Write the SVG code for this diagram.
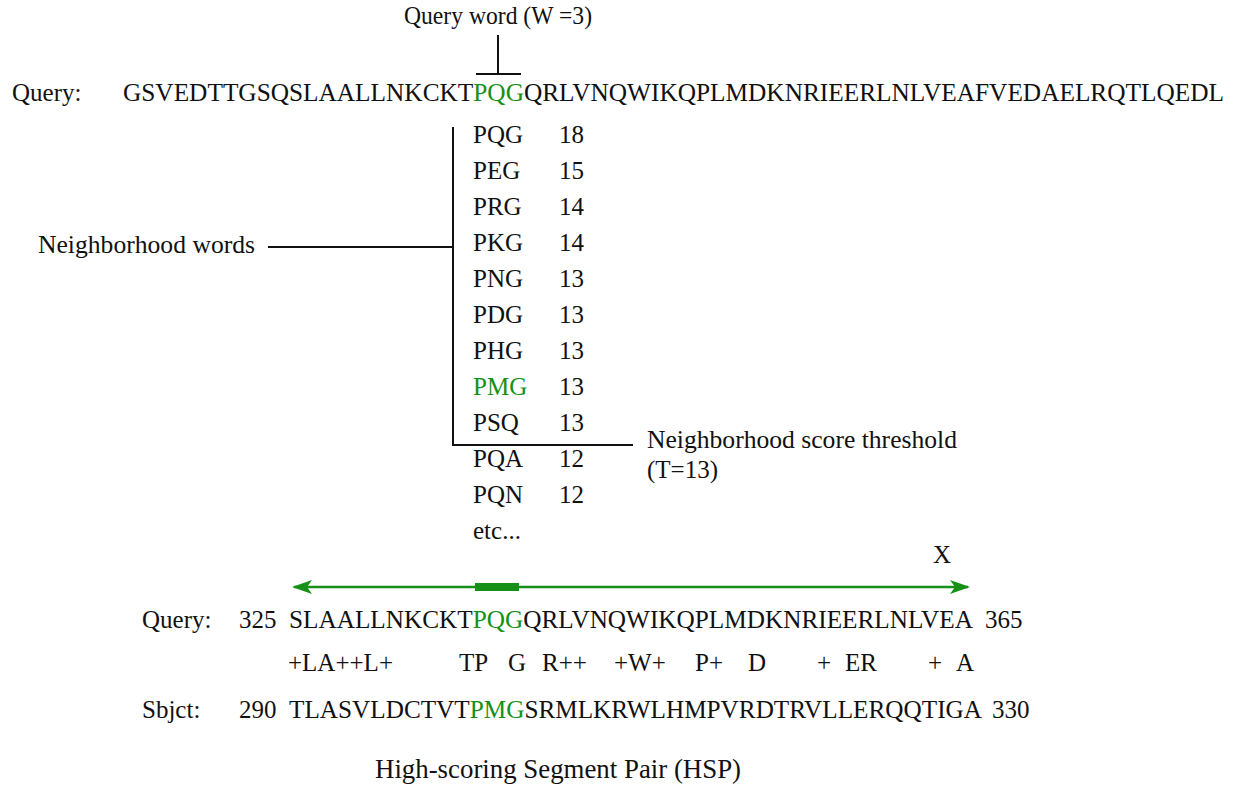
<svg xmlns="http://www.w3.org/2000/svg" width="1237" height="790" viewBox="0 0 1237 790">
<style>
text{font-family:"Liberation Serif","DejaVu Serif","Times New Roman",serif;font-size:25px;fill:#111}
.g{fill:#179017}
.ln{stroke:#111;stroke-width:2;fill:none}
.ga{stroke:#179017;stroke-width:2.5;fill:none}
</style>
<defs>
<marker id="ah" viewBox="0 0 20 14" refX="18" refY="7" markerWidth="20" markerHeight="14" markerUnits="userSpaceOnUse" orient="auto-start-reverse">
<path d="M0,0 L20,7 L0,14 L5,7 Z" fill="#179017"/>
</marker>
</defs>
<rect width="1237" height="790" fill="#fff"/>
<g id="connectors">
<path class="ln" d="M498,35 V74 M476,74 H521"/>
<path class="ln" d="M453,127 V445 H633"/>
<path class="ln" d="M268,247 H453"/>
<line class="ga" x1="294" y1="587" x2="968" y2="587" marker-start="url(#ah)" marker-end="url(#ah)"/>
<rect x="475" y="583" width="44" height="8" fill="#179017"/>
</g>
<g id="query-word"><text x="498" y="24" text-anchor="middle" textLength="188" lengthAdjust="spacingAndGlyphs">Query word (W =3)</text></g>
<g id="query-line">
<text x="12" y="101">Query:</text>
<text x="123" y="101" textLength="1101" lengthAdjust="spacingAndGlyphs">GSVEDTTGSQSLAALLNKCKT<tspan class="g">PQG</tspan>QRLVNQWIKQPLMDKNRIEERLNLVEAFVEDAELRQTLQEDL</text>
</g>
<g id="neighborhood-label"><text x="38" y="253" textLength="217" lengthAdjust="spacingAndGlyphs">Neighborhood words</text></g>
<g id="word-list">
<text x="473" y="143">PQG</text><text x="559" y="143">18</text>
<text x="473" y="179">PEG</text><text x="559" y="179">15</text>
<text x="473" y="215">PRG</text><text x="559" y="215">14</text>
<text x="473" y="251">PKG</text><text x="559" y="251">14</text>
<text x="473" y="287">PNG</text><text x="559" y="287">13</text>
<text x="473" y="323">PDG</text><text x="559" y="323">13</text>
<text x="473" y="359">PHG</text><text x="559" y="359">13</text>
<text x="473" y="395" class="g">PMG</text><text x="559" y="395">13</text>
<text x="473" y="431">PSQ</text><text x="559" y="431">13</text>
<text x="473" y="467">PQA</text><text x="559" y="467">12</text>
<text x="473" y="503">PQN</text><text x="559" y="503">12</text>
<text x="473" y="539">etc...</text>
</g>
<g id="threshold-label">
<text x="647" y="448" textLength="310" lengthAdjust="spacingAndGlyphs">Neighborhood score threshold</text>
<text x="647" y="478">(T=13)</text>
</g>
<g id="x-label"><text x="942" y="563" text-anchor="middle">X</text></g>
<g id="hsp">
<text x="142" y="628">Query:</text>
<text x="239" y="628">325</text>
<text x="289" y="628" textLength="684" lengthAdjust="spacingAndGlyphs">SLAALLNKCKT<tspan class="g">PQG</tspan>QRLVNQWIKQPLMDKNRIEERLNLVEA</text>
<text x="985" y="628">365</text>
<text x="288" y="671">+LA++L+</text>
<text x="459" y="671">TP</text>
<text x="508" y="671">G</text>
<text x="542" y="671">R++</text>
<text x="614" y="671">+W+</text>
<text x="695" y="671">P+</text>
<text x="748" y="671">D</text>
<text x="817" y="671">+</text>
<text x="845" y="671">ER</text>
<text x="928" y="671">+</text>
<text x="956" y="671">A</text>
<text x="142" y="718">Sbjct:</text>
<text x="239" y="718">290</text>
<text x="289" y="718" textLength="693" lengthAdjust="spacingAndGlyphs">TLASVLDCTVT<tspan class="g">PMG</tspan>SRMLKRWLHMPVRDTRVLLERQQTIGA</text>
<text x="992" y="718">330</text>
</g>
<g id="title"><text x="375" y="778" style="font-size:27px" textLength="366" lengthAdjust="spacingAndGlyphs">High-scoring Segment Pair (HSP)</text></g>
</svg>
